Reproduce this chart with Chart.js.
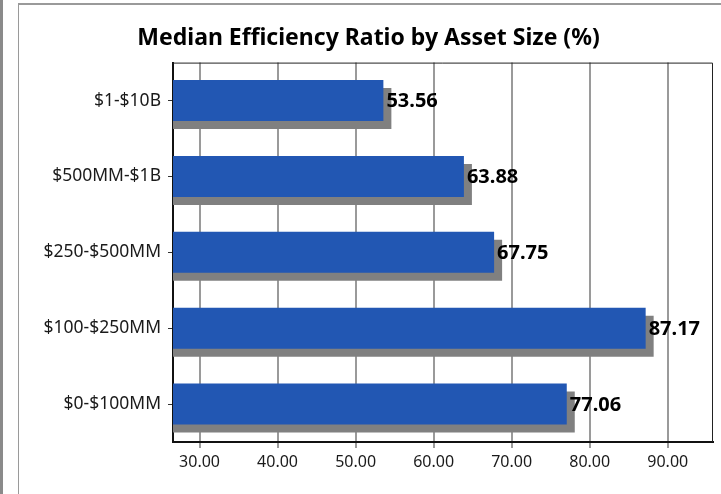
<!DOCTYPE html>
<html>
<head>
<meta charset="utf-8">
<script src="https://cdn.jsdelivr.net/npm/chart.js@4.4.1/dist/chart.umd.min.js"></script>
<style>
  html, body { margin: 0; padding: 0; background: #fff; }
  #wrap { position: relative; width: 721px; height: 494px; overflow: hidden; }
  #edge { position: absolute; left: 0; top: 0; width: 3px; height: 494px; background: #8a8a8a; }
  #frame { position: absolute; left: 18px; top: 3px; width: 800px; height: 600px;
           border-left: 1px solid #9a9a9a; border-top: 2px solid #9a9a9a; }
  canvas { position: absolute; left: 0; top: 0; }
</style>
</head>
<body>
<div id="wrap">
  <div id="edge"></div>
  <div id="frame"></div>
  <canvas id="chart" width="721" height="494"></canvas>
</div>
<script>
const categories = ['$1-$10B', '$500MM-$1B', '$250-$500MM', '$100-$250MM', '$0-$100MM'];
const ratios = [53.56, 63.88, 67.75, 87.17, 77.06];
const xTicks = [30, 40, 50, 60, 70, 80, 90];
const xMin = 26.6;
const xMax = 95.8;

const fontFam = '"Noto Sans", "DejaVu Sans", sans-serif';

// grey drop shadow under each bar
const barShadow = {
    id: 'barShadow',
    beforeDatasetDraw(chart) {
        const ctx = chart.ctx;
        ctx.save();
        ctx.shadowColor = '#808080';
        ctx.shadowOffsetX = 8;
        ctx.shadowOffsetY = 8;
        ctx.shadowBlur = 0;
    },
    afterDatasetDraw(chart) {
        chart.ctx.restore();
    }
};

// thin box round the plot area
const plotBox = {
    id: 'plotBox',
    beforeDatasetsDraw(chart) {
        const a = chart.chartArea;
        const ctx = chart.ctx;
        ctx.save();
        ctx.strokeStyle = '#222';
        ctx.lineWidth = 1;
        ctx.beginPath();
        ctx.moveTo(a.left, a.top + 0.5);
        ctx.lineTo(a.right - 0.5, a.top + 0.5);
        ctx.lineTo(a.right - 0.5, a.bottom);
        ctx.stroke();
        ctx.restore();
    }
};

const valueLabels = {
    id: 'valueLabels',
    afterDatasetsDraw(chart) {
        const ctx = chart.ctx;
        const meta = chart.getDatasetMeta(0);
        ctx.save();
        ctx.font = 'bold 20px ' + fontFam;
        ctx.fillStyle = '#000';
        ctx.textAlign = 'left';
        ctx.textBaseline = 'middle';
        meta.data.forEach((bar, i) => {
            ctx.fillText(ratios[i].toFixed(2), bar.x + 3, bar.y + 1);
        });
        ctx.restore();
    }
};

new Chart(document.getElementById('chart'), {
    type: 'bar',
    data: {
        labels: categories,
        datasets: [{
            data: ratios,
            backgroundColor: '#2257b3',
            borderWidth: 0,
            categoryPercentage: 1,
            barPercentage: 0.54
        }]
    },
    options: {
        indexAxis: 'y',
        responsive: false,
        animation: false,
        devicePixelRatio: 1,
        layout: { padding: { left: 24, right: 8, top: 0, bottom: 0 } },
        plugins: {
            legend: { display: false },
            tooltip: { enabled: false },
            title: {
                display: true,
                text: 'Median Efficiency Ratio by Asset Size (%)',
                color: '#000',
                font: { family: fontFam, size: 23, weight: 'bold' },
                padding: { top: 25, bottom: 10 }
            }
        },
        scales: {
            x: {
                min: xMin,
                max: xMax,
                afterBuildTicks(scale) {
                    scale.ticks = xTicks.map(v => ({ value: v }));
                },
                afterFit(scale) { scale.height = 52; },
                ticks: {
                    color: '#1a1a1a',
                    font: { family: fontFam, size: 16 },
                    padding: 5,
                    callback: v => Number(v).toFixed(2)
                },
                grid: { color: '#9a9a9a', lineWidth: 2, tickLength: 6 },
                border: { color: '#111', width: 2 }
            },
            y: {
                afterFit(scale) { scale.width = 149; },
                ticks: {
                    color: '#1a1a1a',
                    font: { family: fontFam, size: 17.5 },
                    padding: 7
                },
                grid: { drawOnChartArea: false, offset: false, color: '#333', tickLength: 5 },
                border: { color: '#111', width: 2 }
            }
        }
    },
    plugins: [barShadow, plotBox, valueLabels]
});
</script>
</body>
</html>
